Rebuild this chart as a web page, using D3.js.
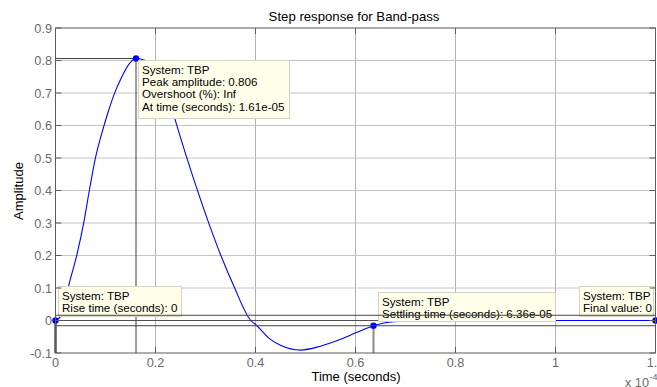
<!DOCTYPE html>
<html>
<head>
<meta charset="utf-8">
<script src="https://cdn.jsdelivr.net/npm/d3@7"></script>
<style>
  html, body { margin: 0; padding: 0; background: #fff; }
  svg { display: block; font-family: "Liberation Sans", Arial, sans-serif; }
</style>
</head>
<body>
<svg id="chart" width="657" height="387"></svg>
<script>
// Step response samples: time in seconds, amplitude
const timeSec = [0, 0.010e-4, 0.018e-4, 0.0266e-4, 0.042e-4, 0.0566e-4, 0.068e-4, 0.080e-4,
  0.093e-4, 0.105e-4, 0.118e-4, 0.132e-4, 0.147e-4, 0.161e-4, 0.180e-4, 0.200e-4, 0.220e-4,
  0.236e-4, 0.245e-4, 0.2766e-4, 0.330e-4, 0.3566e-4, 0.3906e-4, 0.4006e-4, 0.430e-4, 0.450e-4,
  0.490e-4, 0.530e-4, 0.570e-4, 0.603e-4, 0.636e-4, 0.660e-4, 0.700e-4, 0.750e-4, 0.800e-4,
  0.900e-4, 1.000e-4, 1.100e-4, 1.200e-4];
const amplitude = [0, 0.012, 0.045, 0.108, 0.197, 0.302, 0.403, 0.501,
  0.578, 0.640, 0.699, 0.748, 0.789, 0.806, 0.800, 0.768, 0.700,
  0.634, 0.588, 0.434, 0.203, 0.106, 0, -0.013, -0.058, -0.076,
  -0.091, -0.079, -0.058, -0.036, -0.0161, -0.007, -0.001, 0.001, 0.001,
  0.0005, 0, 0, 0];

// Axis ticks
const xTicks = [0, 0.2e-4, 0.4e-4, 0.6e-4, 0.8e-4, 1.0e-4, 1.2e-4];
const xTickLabels = ["0", "0.2", "0.4", "0.6", "0.8", "1", "1.2"];
const yTicks = [-0.1, 0, 0.1, 0.2, 0.3, 0.4, 0.5, 0.6, 0.7, 0.8, 0.9];
const yTickLabels = ["-0.1", "0", "0.1", "0.2", "0.3", "0.4", "0.5", "0.6", "0.7", "0.8", "0.9"];

// Characteristics shown in the data tips
const systemName = "TBP";
const peakAmplitude = 0.806;
const peakTime = 1.61e-5;
const riseTime = 0;
const settlingTime = 6.36e-5;
const finalValue = 0;
const settlingBand = 0.02;   // fraction of the peak used for the settling bounds
const endTime = 1.2e-4;

const svg = d3.select("#chart");

const x = d3.scaleLinear().domain([0, 1.2e-4]).range([55.5, 655.5]);
const y = d3.scaleLinear().domain([-0.1, 0.9]).range([353, 28]);
const [x0, x1] = x.range();
const [yb, yt] = y.range();

// Grid
const grid = svg.append("g");
grid.selectAll("line.gx").data(xTicks.slice(1, -1)).join("line")
  .attr("x1", d => x(d)).attr("x2", d => x(d)).attr("y1", yt).attr("y2", yb)
  .attr("stroke", "#b2b2b2").attr("stroke-width", 1);
grid.selectAll("line.gy").data(yTicks.slice(1, -1)).join("line")
  .attr("x1", x0).attr("x2", x1).attr("y1", d => y(d)).attr("y2", d => y(d))
  .attr("stroke", "#c4c4c4").attr("stroke-width", 1);

// Final value line
svg.append("line")
  .attr("x1", x0).attr("x2", x1).attr("y1", y(finalValue)).attr("y2", y(finalValue))
  .attr("stroke", "#505050").attr("stroke-width", 1);

// Characteristic guide lines
const guides = svg.append("g");
guides.append("line") // peak: horizontal
  .attr("x1", x0).attr("x2", x(peakTime)).attr("y1", y(peakAmplitude)).attr("y2", y(peakAmplitude))
  .attr("stroke", "#3c3c3c").attr("stroke-width", 1);
guides.append("line") // peak: vertical
  .attr("x1", x(peakTime)).attr("x2", x(peakTime)).attr("y1", y(peakAmplitude)).attr("y2", yb)
  .attr("stroke", "#3c3c3c").attr("stroke-width", 1);
guides.append("line") // settling time: vertical
  .attr("x1", x(settlingTime)).attr("x2", x(settlingTime))
  .attr("y1", y(-settlingBand * peakAmplitude)).attr("y2", yb)
  .attr("stroke", "#8a8a8a").attr("stroke-width", 2);
guides.append("line") // rise time: vertical
  .attr("x1", x(riseTime)).attr("x2", x(riseTime)).attr("y1", y(finalValue)).attr("y2", yb)
  .attr("stroke", "#000").attr("stroke-width", 2);

// Response curve
const pts = timeSec.map((t, i) => [t, amplitude[i]]);
svg.append("path")
  .datum(pts)
  .attr("fill", "none")
  .attr("stroke", "#0000ff")
  .attr("stroke-width", 1.1)
  .attr("d", d3.line().x(d => x(d[0])).y(d => y(d[1])).curve(d3.curveMonotoneX));

// Markers
const markers = [
  [peakTime, peakAmplitude],
  [riseTime, finalValue],
  [settlingTime, -settlingBand * peakAmplitude],
  [endTime, finalValue]
];
svg.selectAll("circle.mk").data(markers).join("circle")
  .attr("cx", d => x(d[0])).attr("cy", d => y(d[1])).attr("r", 3.2)
  .attr("fill", "#0000ff");

// Data tips
const tips = [
  { left: 138.5, top: 60.5, w: 151, h: 58, lines: [
      "System: " + systemName,
      "Peak amplitude: " + peakAmplitude,
      "Overshoot (%): Inf",
      "At time (seconds): " + d3.format(".2e")(peakTime).replace("e-5", "e-05")] },
  { left: 58.5, top: 286.5, w: 123, h: 30, lines: [
      "System: " + systemName,
      "Rise time (seconds): " + riseTime] },
  { left: 378.5, top: 292.5, w: 177, h: 29, lines: [
      "System: " + systemName,
      "Settling time (seconds): " + d3.format(".2e")(settlingTime).replace("e-5", "e-05")] },
  { left: 579.5, top: 286.5, w: 74, h: 30, lines: [
      "System: " + systemName,
      "Final value: " + finalValue] }
];
const tipG = svg.selectAll("g.tip").data(tips).join("g").attr("class", "tip");
tipG.append("rect")
  .attr("x", d => d.left).attr("y", d => d.top).attr("width", d => d.w).attr("height", d => d.h)
  .attr("fill", "#ffffea").attr("stroke", "#d4d4c4").attr("stroke-width", 1);
tipG.each(function(d) {
  d3.select(this).selectAll("text").data(d.lines).join("text")
    .attr("x", d.left + 3.5)
    .attr("y", (l, i) => d.top + 13 + i * 12.4)
    .attr("font-size", 11.6)
    .attr("fill", "#000")
    .text(l => l);
});

// Settling bounds
svg.selectAll("line.bound").data([settlingBand, -settlingBand]).join("line")
  .attr("x1", x0).attr("x2", x1)
  .attr("y1", d => y(d * peakAmplitude)).attr("y2", d => y(d * peakAmplitude))
  .attr("stroke", "#454545").attr("stroke-width", 1);

// Axes box
const axisColor = "#5c5c5c";
svg.append("rect")
  .attr("x", x0).attr("y", yt).attr("width", x1 - x0).attr("height", yb - yt)
  .attr("fill", "none").attr("stroke", axisColor).attr("stroke-width", 1);

const tickLen = 6;
const axes = svg.append("g").attr("stroke", axisColor).attr("stroke-width", 1);
xTicks.forEach(t => {
  axes.append("line").attr("x1", x(t)).attr("x2", x(t)).attr("y1", yb).attr("y2", yb - tickLen);
  axes.append("line").attr("x1", x(t)).attr("x2", x(t)).attr("y1", yt).attr("y2", yt + tickLen);
});
yTicks.forEach(t => {
  axes.append("line").attr("x1", x0).attr("x2", x0 + tickLen).attr("y1", y(t)).attr("y2", y(t));
  axes.append("line").attr("x1", x1).attr("x2", x1 - tickLen).attr("y1", y(t)).attr("y2", y(t));
});

// Tick labels
const tickColor = "#6a6a6a";
svg.selectAll("text.xt").data(xTicks).join("text")
  .attr("x", d => x(d)).attr("y", 367)
  .attr("text-anchor", "middle").attr("font-size", 12.7).attr("fill", tickColor)
  .text((d, i) => xTickLabels[i]);
svg.selectAll("text.yt").data(yTicks).join("text")
  .attr("x", 52).attr("y", d => y(d)).attr("dy", "0.36em")
  .attr("text-anchor", "end").attr("font-size", 12.7).attr("fill", tickColor)
  .text((d, i) => yTickLabels[i]);

// Exponent note
svg.append("text").attr("x", 625).attr("y", 386.5)
  .attr("font-size", 12.7).attr("fill", tickColor).text("x 10");
svg.append("text").attr("x", 649.5).attr("y", 380)
  .attr("font-size", 9).attr("fill", tickColor).text("-4");

// Titles
svg.append("text").attr("x", 354).attr("y", 20.5)
  .attr("text-anchor", "middle").attr("font-size", 13.2).attr("fill", "#000")
  .text("Step response for Band-pass");
svg.append("text").attr("x", 356).attr("y", 381)
  .attr("text-anchor", "middle").attr("font-size", 13).attr("fill", "#000")
  .text("Time (seconds)");
svg.append("text")
  .attr("transform", "translate(22.5,191) rotate(-90)")
  .attr("text-anchor", "middle").attr("font-size", 13).attr("fill", "#000")
  .text("Amplitude");
</script>
</body>
</html>
